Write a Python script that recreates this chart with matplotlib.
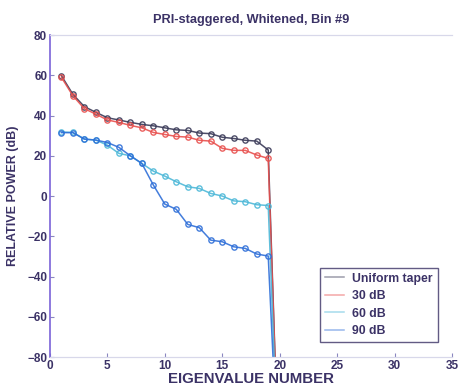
import matplotlib
matplotlib.use("Agg")
import matplotlib.pyplot as plt
import numpy as np

# Eigenvalue index and relative power (dB) for each taper
eig_num = list(range(1, 21))
uniform_taper = [59.8, 50.5, 44.4, 41.6, 38.9, 37.8, 36.6, 35.6, 34.9, 33.9,
                 32.9, 32.6, 31.3, 31.0, 29.2, 28.6, 27.7, 27.3, 22.9, -150]
taper_30db = [59.0, 49.8, 43.4, 40.7, 37.8, 36.6, 35.1, 33.9, 31.6, 30.6,
              29.6, 29.3, 27.7, 27.3, 23.7, 22.7, 22.7, 20.4, 18.7, -150]
taper_60db = [31.8, 31.6, 28.3, 27.8, 25.3, 21.2, 20.0, 16.2, 12.4, 9.9,
              7.1, 4.6, 3.8, 1.3, 0.0, -2.4, -2.8, -4.3, -4.7, -150]
taper_90db = [31.5, 31.5, 28.3, 27.8, 26.6, 24.2, 20.0, 16.2, 5.5, -4.0,
              -6.6, -14.1, -15.7, -21.9, -22.7, -25.2, -26.0, -28.8, -29.8, -150]

series_labels = ["Uniform taper", "30 dB", "60 dB", "90 dB"]
x_ticks = [0, 5, 10, 15, 20, 25, 30, 35]
y_ticks = [-80, -60, -40, -20, 0, 20, 40, 60, 80]

text_color = "#3b3266"
colors = ["#3a3a58", "#e8504e", "#4db8d8", "#2f6fd8"]

plt.rcParams["font.family"] = ["Liberation Sans", "DejaVu Sans"]
plt.rcParams["font.weight"] = "bold"

fig = plt.figure(figsize=(4.58, 3.89), dpi=100)
ax = fig.add_axes([0.109, 0.082, 0.878, 0.828])

for vals, col, lab in zip([uniform_taper, taper_30db, taper_60db, taper_90db],
                          colors, series_labels):
    ax.plot(eig_num, vals, color=col, lw=1.1, marker="o", ms=3.8,
            mfc="none", mec=col, mew=1.0, label=lab, alpha=0.9)

ax.set_xlim(0, 35)
ax.set_ylim(-80, 80)
ax.set_xticks(x_ticks)
ax.set_yticks(y_ticks)
ax.tick_params(direction="in", length=3, width=0.8, colors="#8a86c0",
               labelcolor=text_color, labelsize=8.5, pad=2)
for lbl in ax.get_xticklabels() + ax.get_yticklabels():
    lbl.set_fontweight("bold")

ax.spines["left"].set_color("#7a62d8")
ax.spines["left"].set_linewidth(1.2)
for s in ["top", "bottom"]:
    ax.spines[s].set_color("#d8d8ea")
    ax.spines[s].set_linewidth(0.9)
ax.spines["right"].set_visible(False)

ax.set_title("PRI-staggered, Whitened, Bin #9", fontsize=9.2, fontweight="bold",
             color=text_color, pad=9)
ax.set_xlabel("EIGENVALUE NUMBER", fontsize=10.8, fontweight="bold",
              color=text_color, labelpad=0)
ax.set_ylabel("RELATIVE POWER (dB)", fontsize=9, fontweight="bold",
              color=text_color, labelpad=6)

leg = ax.legend(loc="lower right", bbox_to_anchor=(0.964, 0.047),
                borderaxespad=0, fontsize=8.8, frameon=True, fancybox=False,
                handlelength=1.5, borderpad=0.4, labelspacing=0.45,
                handletextpad=0.7)
leg.get_frame().set_edgecolor("#3b3266")
leg.get_frame().set_linewidth(1.0)
for t in leg.get_texts():
    t.set_color(text_color)
    t.set_fontweight("bold")
for h in leg.legend_handles:
    h.set_marker("")
    h.set_alpha(0.5)

fig.savefig("out.png", dpi=100, facecolor="white")
